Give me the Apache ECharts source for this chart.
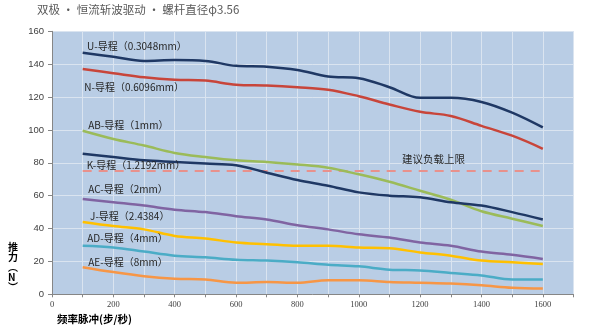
<!DOCTYPE html>
<html><head><meta charset="utf-8">
<script src="https://cdn.jsdelivr.net/npm/echarts@6/dist/echarts.min.js"></script>
<style>html,body{margin:0;padding:0;background:#fff}#c{width:595px;height:329px}</style>
</head><body><div id="c"></div>
<script>
var freq = [100,200,300,400,500,600,700,800,900,1000,1100,1200,1300,1400,1500,1600];
var U  = [147,144.5,142,142.5,142,139,138.5,136.5,132.5,131.5,126,119.5,119.5,117,110.5,101.5];
var N  = [137,134.5,132,130.5,130,127.5,127,126,124.5,120.5,115.5,111,108.5,102.5,96.5,88.5];
var AB = [99.5,94.5,90.5,86,83.5,81.5,80.5,79,77,73,68.5,63,57.5,50.5,46,41.5];
var K  = [85.5,83.5,81.5,80.5,79.5,78.5,74,69.5,66,62,60,59,56,54,50,45.5];
var AC = [58,56,54,51.5,50,47.5,45.5,42,39.5,36.5,34.5,31.5,29.5,26,24,21.5];
var J  = [44,41.5,39.5,35.5,34,31.5,30.5,29.5,29.5,28.5,28,25.5,23.5,20.5,19.5,18.5];
var AD = [29.5,28.5,26,23.5,22.5,21,20.5,19.5,18,17,15,14.5,13,11.5,9,9];
var AE = [16.5,13.5,11,9.5,9,7,7.5,7,8.5,8.5,7.5,7,6.5,5.5,4,3.5];
var limitValue = 75;
var limitLabel = '建议负载上限';
var seriesNames = ['U-导程（0.3048mm）','N-导程（0.6096mm）','AB-导程（1mm）','K-导程（1.2192mm）','AC-导程（2mm）','J-导程（2.4384）','AD-导程（4mm）','AE-导程（8mm）'];
var seriesData = [U,N,AB,K,AC,J,AD,AE];
var labelAnchors = [[114,151],[105,125.8],[118,103],[113,78.6],[118,64.2],[124,47.5],[115,34],[118,19.4]];
var limitAnchor = [1141,82];
var colors = ['#1f3864','#c8453a','#9bbb59','#1f3864','#8064a2','#ffc000','#4bacc6','#f79646'];

var chart = echarts.init(document.getElementById('c'), null, {renderer:'canvas'});
function pairs(arr){ return freq.map(function(f,i){ return [f, arr[i]]; }); }
var series = seriesData.map(function(d, i){
  return {
    type:'line', name: seriesNames[i], data: pairs(d), smooth: 0.35, showSymbol:false,
    lineStyle:{color: colors[i], width: 2.5}, itemStyle:{color: colors[i]}, z: 3,
    markPoint:{
      symbol:'rect', symbolSize:0, silent:true, animation:false,
      data:[{coord: labelAnchors[i], value: seriesNames[i]}],
      label:{show:true, position:'right', distance:0, formatter: seriesNames[i], color:'#262626',
        fontSize:10, fontFamily:'"Noto Sans CJK SC", sans-serif'}
    }
  };
});
series.push({
  type:'line', name:'limit', data: freq.map(function(f){ return [f, limitValue]; }),
  showSymbol:false, lineStyle:{color:'#e8918c', width:2, type:[9,7]}, z:2,
  markPoint:{
    symbol:'rect', symbolSize:0, silent:true, animation:false,
    data:[{coord: limitAnchor, value: limitLabel}],
    label:{show:true, position:'right', distance:0, formatter: limitLabel, color:'#262626',
      fontSize:10.5, fontFamily:'"Noto Sans CJK SC", sans-serif'}
  }
});

chart.setOption({
  animation:false,
  backgroundColor:'#ffffff',
  grid:{left:52, right:21.5, top:31.3, bottom:34.7, show:true, backgroundColor:'#b9cde5', borderWidth:0},
  xAxis:{
    type:'value', min:0, max:1700, interval:100,
    axisLine:{show:true, lineStyle:{color:'#868686', width:1}},
    axisTick:{show:true, length:3, lineStyle:{color:'#868686'}},
    splitLine:{show:true, lineStyle:{color:'#dae4f0', width:1}},
    axisLabel:{formatter:function(v){ return (v%200===0 && v<=1600) ? String(v) : ''; },
      color:'#404040', fontSize:8.5, fontFamily:'"Liberation Serif", serif', margin:6}
  },
  yAxis:{
    type:'value', min:0, max:160, interval:20,
    axisLine:{show:true, lineStyle:{color:'#868686', width:1}},
    axisTick:{show:true, length:4, lineStyle:{color:'#868686'}},
    splitLine:{show:true, lineStyle:{color:'#dae4f0', width:1}},
    axisLabel:{color:'#404040', fontSize:9.5, fontFamily:'"Liberation Sans", Arial, sans-serif', margin:8}
  },
  graphic:[
    {type:'text', left:37, top:4, style:{text:'双极 • 恒流斩波驱动 • 螺杆直径φ3.56', fill:'#595959',
      font:'11.5px "Noto Sans CJK SC", serif'}},
    {type:'text', left:8, top:242, style:{text:'推\n力\n︵\nN\n︶', fill:'#000', lineHeight:10,
      font:'bold 10px "Noto Sans CJK SC", sans-serif'}},
    {type:'text', left:57, top:314, style:{text:'频率脉冲(步/秒)', fill:'#000',
      font:'bold 10.5px "Noto Sans CJK SC", serif'}}
  ],
  series: series
});
</script>
</body></html>
